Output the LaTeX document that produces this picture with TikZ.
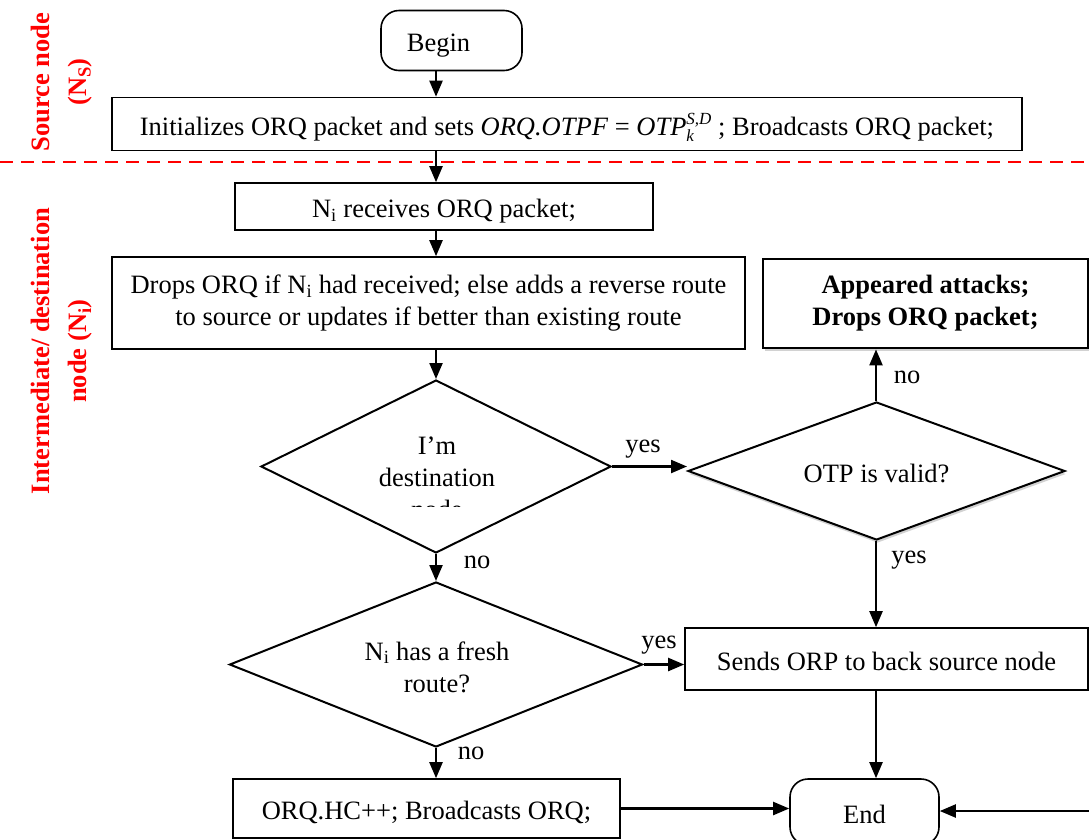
\documentclass[tikz,border=0pt]{standalone}
\usepackage{fontspec}
\setmainfont{Liberation Serif}
\usetikzlibrary{shapes.geometric,arrows.meta,shadows}
\begin{document}
\begin{tikzpicture}[x=1pt,y=-1pt,
  every node/.style={font=\fontsize{26.5}{32}\selectfont, align=center},
  box/.style={draw, line width=1.6pt, inner sep=0pt, fill=white},
  one/.style={text height=22pt, text depth=0pt},
  term/.style={box, rounded corners=18pt},
  dia/.style={draw, diamond, line width=2pt, inner sep=0pt, fill=white},
  arr/.style={line width=2.2pt, -{Triangle[length=16pt,width=13pt]}},
  lbl/.style={inner sep=0pt},
  side/.style={text=red, font=\fontsize{26.5}{37}\selectfont\bfseries, rotate=90},
  sep/.style={red, line width=2pt, dash pattern=on 13pt off 8pt}
]
\clip (0,0) rectangle (1089,839);
\fill[white] (0,0) rectangle (1089,839);
\coordinate (col) at (436,0);

% separator
\coordinate (sepL) at (0,162);
\coordinate (sepR) at (1089,162);
\draw[sep] (sepL) -- (sepR);

% side labels
\node[side] (srclbl) at (62,82) {Source node\\(N\textsubscript{S})};
\node[side] (intlbl) at (62,351) {Intermediate/ destination\\node (N\textsubscript{i})};

% nodes
\node[term, one, minimum width=141pt, minimum height=60pt] (begin) at (451.5,40.5) {Begin\hspace*{26pt}};
\node[box, one, minimum width=910pt, minimum height=53pt] (init) at (567,124)
  {Initializes ORQ packet and sets \textit{ORQ.OTPF} = \textit{OTP}\rlap{\raisebox{-0.55ex}{\fontsize{17}{17}\selectfont\textit{k}}}\raisebox{0.85ex}{\fontsize{17}{17}\selectfont\textit{S,D}} ; Broadcasts ORQ packet;};
\node[box, one, minimum width=418pt, minimum height=47pt] (ni) at (444,206.5) {N\textsubscript{i} receives ORQ packet;};
\node[box, minimum width=633pt, minimum height=92pt] (drops) at (428.5,303)
  {Drops ORQ if N\textsubscript{i} had received; else adds a reverse route\\to source or updates if better than existing route};
\node[dia, minimum width=350pt, minimum height=173pt] (d1) at (436,466.5) {};
\begin{scope}
  \clip (262,380) rectangle (612,506);
  \node (d1t) at (437,478) {I’m\\destination\\node};
\end{scope}
\node[dia, minimum width=377pt, minimum height=138pt,
  drop shadow={shadow xshift=1pt, shadow yshift=-3pt, fill=gray!70}] (otp) at (876.5,471) {};
\node[one] (otpt) at (876.5,471) {OTP is valid?};
\node[box, line width=2.8pt, minimum width=325pt, minimum height=89pt,
  drop shadow={shadow xshift=2pt, shadow yshift=-3pt, fill=gray!70}, font=\fontsize{26.5}{32}\selectfont\bfseries] (app) at (925.5,303.5)
  {Appeared attacks;\\Drops ORQ packet;};
\node[dia, minimum width=413pt, minimum height=165pt] (d2) at (436,664.5) {};
\node (d2t) at (437,667) {N\textsubscript{i} has a fresh\\route?};
\node[box, one, minimum width=403pt, minimum height=62pt] (sends) at (886.5,659) {Sends ORP to back source node};
\node[term, one, minimum width=149pt, minimum height=66pt] (end) at (864.5,812) {End};
\node[box, one, minimum width=387pt, minimum height=59pt] (orq) at (426.5,808.5) {ORQ.HC++; Broadcasts ORQ;};

% connectors
\coordinate (ocol) at (876,0);
\draw[arr] (begin.south -| col) -- (init.north -| col);
\draw[arr] (init.south -| col) -- (ni.north -| col);
\draw[arr] (ni.south -| col) -- (drops.north -| col);
\draw[arr] (drops.south -| col) -- (d1.north -| col);
\draw[arr] (d1.east) -- (otp.west |- d1.east);
\draw[arr] (otp.north -| ocol) -- (app.south -| ocol);
\draw[arr] (otp.south -| ocol) -- (sends.north -| ocol);
\draw[arr] (d1.south -| col) -- (d2.north -| col);
\draw[arr] (d2.east) -- (sends.west |- d2.east);
\draw[arr] (d2.south -| col) -- (orq.north -| col);
\draw[arr] (sends.south -| ocol) -- (end.north -| ocol);
\draw[arr] (orq.east) -- (end.west |- orq.east);
\coordinate (rin) at (1089,811);
\draw[arr] (rin) -- (end.east |- rin);

% labels
\node[lbl] (y1) at (643,449) {yes};
\node[lbl] (n1) at (477,562) {no};
\node[lbl] (n2) at (907,377) {no};
\node[lbl] (y2) at (909,560) {yes};
\node[lbl] (y3) at (659,645) {yes};
\node[lbl] (n3) at (471,753) {no};
\end{tikzpicture}
\end{document}
